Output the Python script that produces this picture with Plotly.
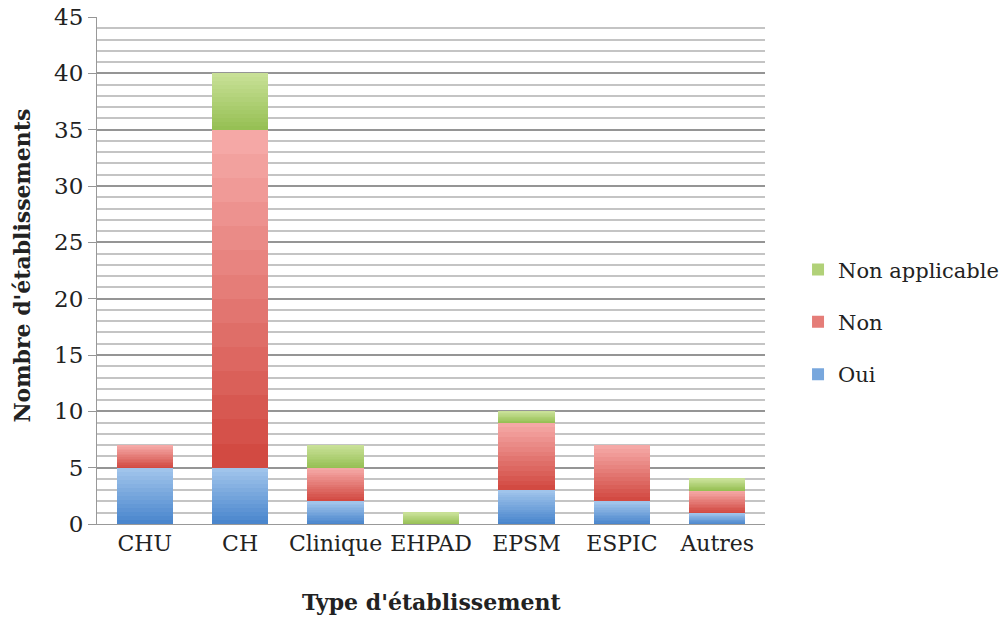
import plotly.graph_objects as go

categories = ["CHU", "CH", "Clinique", "EHPAD", "EPSM", "ESPIC", "Autres"]
oui = [5, 5, 2, 0, 3, 2, 1]
non = [2, 30, 3, 0, 6, 5, 2]
non_applicable = [0, 5, 2, 1, 1, 0, 1]

series = [
    ("Oui", oui, (74, 134, 205), (160, 196, 235), 3),
    ("Non", non, (210, 74, 66), (245, 168, 166), 2),
    ("Non applicable", non_applicable, (150, 192, 84), (200, 224, 150), 1),
]

N = 14
fig = go.Figure()
for name, vals, dark, light, rank in series:
    for k in range(N):
        t = k / (N - 1)
        c = tuple(round(dark[i] + (light[i] - dark[i]) * t) for i in range(3))
        fig.add_trace(go.Bar(
            x=categories,
            y=[v / N for v in vals],
            name=name,
            legendgroup=name,
            legendrank=rank,
            showlegend=(k == N // 2),
            marker=dict(color="rgb(%d,%d,%d)" % c, line=dict(width=0)),
            hoverinfo="skip",
        ))

font = "DejaVu Serif"
fig.update_layout(
    width=1008, height=619,
    barmode="stack", bargap=0.41,
    paper_bgcolor="white", plot_bgcolor="white",
    margin=dict(l=97, r=243, t=17, b=95),
    font=dict(family=font, size=22, color="#222"),
    legend=dict(xref="container", yref="container", x=0.7917, y=0.480,
                xanchor="left", yanchor="middle",
                traceorder="grouped", tracegroupgap=22,
                font=dict(family=font, size=21, color="#222"),
                itemwidth=30),
    xaxis=dict(showline=True, linecolor="#999", linewidth=1, automargin=False,
               tickangle=0, tickfont=dict(family=font, size=22)),
    yaxis=dict(range=[0, 45], dtick=5, showgrid=True, gridcolor="#959595",
               gridwidth=2, showline=True, linecolor="#999", linewidth=1,
               ticks="outside", ticklen=8, tickcolor="#959595", automargin=False,
               zeroline=False, ticklabeloverflow="allow",
               minor=dict(dtick=1, showgrid=True, gridcolor="#c4c4c4", gridwidth=2),
               tickfont=dict(family=font, size=23)),
    annotations=[
        dict(text="<b>Type d'établissement</b>", xref="paper", yref="paper",
             x=0.5, y=0, yshift=-78, xanchor="center", yanchor="middle",
             showarrow=False, font=dict(family=font, size=22, color="#222")),
        dict(text="<b>Nombre d'établissements</b>", xref="paper", yref="paper",
             x=0, y=0.5, xshift=-76, yshift=5, xanchor="center", yanchor="middle",
             textangle=-90, showarrow=False,
             font=dict(family=font, size=22, color="#222")),
    ],
)
fig.write_html("out.html", config={"displayModeBar": False},
               post_script="document.body.style.margin='0';document.body.style.overflow='hidden';")
